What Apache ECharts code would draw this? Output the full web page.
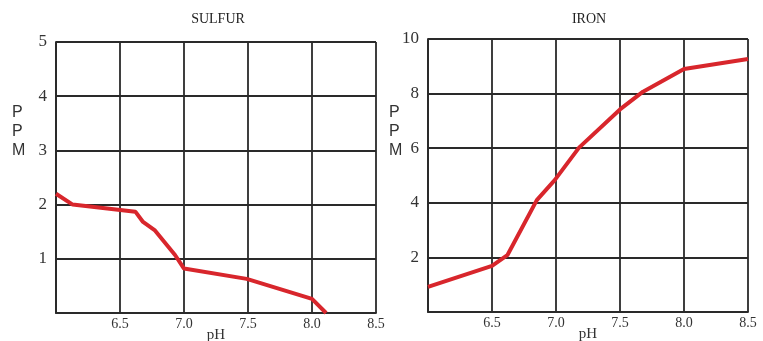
<!DOCTYPE html>
<html>
<head>
<meta charset="utf-8">
<script src="https://cdn.jsdelivr.net/npm/echarts@6/dist/echarts.min.js"></script>
<style>
  html, body { margin: 0; padding: 0; background: #fff; }
  #main { width: 763px; height: 341px; }
</style>
</head>
<body>
<div id="main"></div>
<script>
// readings
var sulfurPH  = [6.0, 6.13, 6.62, 6.68, 6.77, 6.93, 7.0, 7.49, 8.0, 8.11];
var sulfurPPM = [2.2, 2.0, 1.87, 1.68, 1.53, 1.07, 0.82, 0.63, 0.26, 0];
var ironPH    = [6.0, 6.5, 6.62, 6.85, 6.99, 7.18, 7.5, 7.68, 8.0, 8.5];
var ironPPM   = [0.92, 1.69, 2.08, 4.1, 4.83, 6.02, 7.42, 8.07, 8.9, 9.27];
var titles = ['SULFUR', 'IRON'];

function pairs(xs, ys) {
  return xs.map(function (x, i) { return [x, ys[i]]; });
}

var gridColor = '#2a2a2a';
var serif = '"Liberation Serif", "DejaVu Serif", serif';

function xAxis(idx) {
  return {
    type: 'value', gridIndex: idx, min: 6, max: 8.5, interval: 0.5,
    name: 'pH', nameLocation: 'middle', nameGap: 15, nameMoveOverlap: false,
    nameTextStyle: { fontFamily: serif, fontSize: 15, color: '#333' },
    axisLine: { show: true, lineStyle: { color: gridColor, width: 1.8 } },
    axisTick: { show: false },
    axisLabel: {
      fontFamily: serif, fontSize: 14, color: '#333', margin: 4,
      showMinLabel: true, showMaxLabel: true,
      formatter: function (v) { return v === 6 ? '' : v.toFixed(1); }
    },
    splitLine: { show: true, lineStyle: { color: gridColor, width: 1.8 } }
  };
}

function yAxis(idx, max, step) {
  return {
    type: 'value', gridIndex: idx, min: 0, max: max, interval: step,
    axisLine: { show: true, lineStyle: { color: gridColor, width: 1.8 } },
    axisTick: { show: false },
    axisLabel: {
      fontFamily: serif, fontSize: 17, color: '#333', margin: 9,
      padding: [0, 0, 5, 0],
      formatter: function (v) { return v === 0 ? '' : String(v); }
    },
    splitLine: { show: true, lineStyle: { color: gridColor, width: 1.8 } }
  };
}

var myChart = echarts.init(document.getElementById('main'));
var option = {
  animation: false,
  title: [
    { text: titles[0], left: 213, top: 7, textAlign: 'center',
      textStyle: { fontFamily: serif, fontSize: 14, fontWeight: 'normal', color: '#222' } },
    { text: titles[1], left: 584, top: 7, textAlign: 'center',
      textStyle: { fontFamily: serif, fontSize: 14, fontWeight: 'normal', color: '#222' } }
  ],
  grid: [
    { left: 56, top: 42, width: 320, height: 271, outerBoundsMode: 'none', containLabel: false },
    { left: 428, top: 39, width: 320, height: 273, outerBoundsMode: 'none', containLabel: false }
  ],
  xAxis: [xAxis(0), xAxis(1)],
  yAxis: [yAxis(0, 5, 1), yAxis(1, 10, 2)],
  graphic: [
    { type: 'text', left: 12, top: 103,
      style: { text: 'P\nP\nM', fontFamily: '"Liberation Sans", Arial, sans-serif', fontSize: 16,
               lineHeight: 19, fill: '#333', align: 'center' } },
    { type: 'text', left: 389, top: 103,
      style: { text: 'P\nP\nM', fontFamily: '"Liberation Sans", Arial, sans-serif', fontSize: 16,
               lineHeight: 19, fill: '#333', align: 'center' } }
  ],
  series: [
    { type: 'line', xAxisIndex: 0, yAxisIndex: 0, data: pairs(sulfurPH, sulfurPPM),
      symbol: 'none', lineStyle: { color: '#d8262c', width: 4 } },
    { type: 'line', xAxisIndex: 1, yAxisIndex: 1, data: pairs(ironPH, ironPPM),
      symbol: 'none', lineStyle: { color: '#d8262c', width: 4 } }
  ]
};
myChart.setOption(option);
</script>
</body>
</html>
